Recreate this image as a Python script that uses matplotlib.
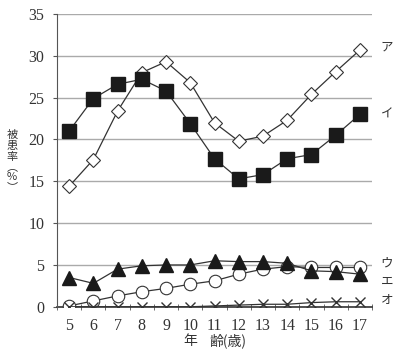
import numpy as np
import matplotlib.pyplot as plt

ages = [5, 6, 7, 8, 9, 10, 11, 12, 13, 14, 15, 16, 17]

# ア: open diamond, イ: filled square, ウ: open circle, エ: filled triangle, オ: cross
a_vals = [14.4, 17.6, 23.4, 28.0, 29.3, 26.8, 22.0, 19.8, 20.4, 22.3, 25.4, 28.1, 30.7]
i_vals = [21.0, 24.9, 26.6, 27.2, 25.8, 21.9, 17.7, 15.3, 15.8, 17.7, 18.2, 20.5, 23.0]
u_vals = [0.1, 0.7, 1.3, 1.8, 2.2, 2.7, 3.1, 3.9, 4.5, 4.8, 4.7, 4.7, 4.7]
e_vals = [3.5, 2.8, 4.5, 4.9, 5.0, 5.0, 5.5, 5.4, 5.4, 5.2, 4.3, 4.2, 3.9]
o_vals = [0.0, 0.0, 0.0, 0.0, 0.0, 0.0, 0.1, 0.2, 0.3, 0.3, 0.5, 0.6, 0.6]

series_labels = ["ア", "イ", "ウ", "エ", "オ"]
label_y = [31.0, 23.0, 5.2, 3.0, 0.7]

ylabel_chars = ["被", "患", "率", "︵", "%", "︶"]
ylabel_pos = [134, 145, 156, 166, 176, 186]  # pixel rows from top

jp = ["Noto Sans CJK JP", "DejaVu Sans"]
num_font = "Liberation Serif"

fig = plt.figure(figsize=(4.0, 3.51), dpi=100)
ax = fig.add_axes([0.1425, 0.126, 0.7875, 0.834])

lc = "#333333"
ax.plot(ages, a_vals, color=lc, lw=0.9, marker="D", ms=7.5, mfc="white", mec=lc, mew=0.8, zorder=3)
ax.plot(ages, i_vals, color=lc, lw=0.9, marker="s", ms=10.5, mfc="#1a1a1a", mec="#1a1a1a", zorder=3)
ax.plot(ages, u_vals, color=lc, lw=0.9, marker="o", ms=9, mfc="white", mec=lc, mew=0.8, zorder=3)
ax.plot(ages, e_vals, color=lc, lw=0.9, marker="^", ms=10, mfc="#1a1a1a", mec="#1a1a1a", zorder=4)
ax.plot(ages, o_vals, color=lc, lw=0.9, marker="x", ms=7, mec=lc, mew=1.0, zorder=5)

ax.set_xlim(4.5, 17.5)
ax.set_ylim(0, 35)
ax.set_yticks(np.arange(0, 36, 5))
ax.set_xticks(ages)
ax.set_xticks(np.arange(4.5, 17.6, 1), minor=True)
ax.grid(axis="y", color="#aaaaaa", lw=1.0)
ax.set_axisbelow(True)

for s in ["top", "right"]:
    ax.spines[s].set_visible(False)
ax.spines["left"].set_color("#555555")
ax.spines["bottom"].set_color("#333333")
ax.spines["bottom"].set_linewidth(1.2)
ax.spines["bottom"].set_zorder(2)

ax.tick_params(axis="x", which="major", length=0, pad=8)
ax.tick_params(axis="x", which="minor", direction="inout", length=5, color="#555555")
ax.tick_params(axis="y", length=3, color="#555555", pad=6)
for t in ax.get_xticklabels() + ax.get_yticklabels():
    t.set_fontfamily(num_font)
    t.set_fontsize(11.5)
    t.set_color("#333333")

for lab, y in zip(series_labels, label_y):
    ax.text(17.85, y, lab, family=jp, fontsize=9, color="#333333", va="center", ha="left")

fig.text(190 / 400, 1 - 341 / 351, "年", family=jp, fontsize=10, color="#333333", ha="center", va="center")
fig.text(228 / 400, 1 - 341 / 351, "齢(歳)", family=jp, fontsize=10, color="#333333", ha="center", va="center")
for ch, py in zip(ylabel_chars, ylabel_pos):
    fig.text(12 / 400, 1 - py / 351, ch, family=jp, fontsize=8, color="#333333",
             ha="center", va="center_baseline")

fig.savefig("out.png", dpi=100, facecolor="white")
